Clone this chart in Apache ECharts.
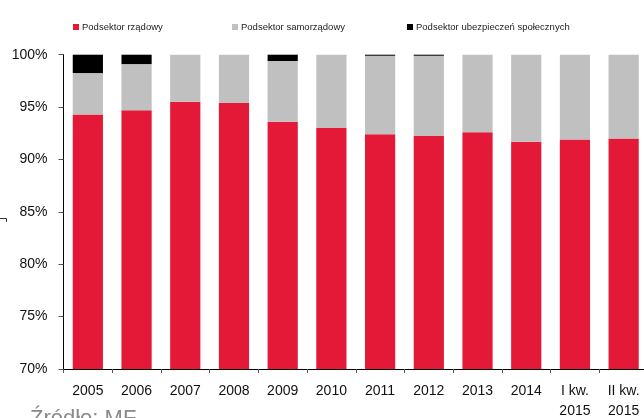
<!DOCTYPE html>
<html>
<head>
<meta charset="utf-8">
<script src="https://cdn.jsdelivr.net/npm/echarts@6/dist/echarts.min.js"></script>
<style>
html,body{margin:0;padding:0;background:#fff;}
#c{width:644px;height:418px;}
</style>
</head>
<body>
<div id="c"></div>
<script>
var categories = ['2005','2006','2007','2008','2009','2010','2011','2012','2013','2014','I kw.\n2015','II kw.\n2015'];
var rzadowy = [94.3, 94.7, 95.5, 95.4, 93.6, 93.0, 92.4, 92.25, 92.6, 91.7, 91.9, 92.0];
var samorzadowy = [3.95, 4.4, 4.5, 4.6, 5.8, 7.0, 7.5, 7.65, 7.4, 8.3, 8.1, 8.0];
var ubezpieczen = [1.75, 0.9, 0, 0, 0.6, 0, 0.1, 0.1, 0, 0, 0, 0];
var seriesNames = ['Podsektor rządowy', 'Podsektor samorządowy', 'Podsektor ubezpieczeń społecznych'];
var yTicks = {min: 70, max: 100, interval: 5};

var chart = echarts.init(document.getElementById('c'), null, {renderer: 'canvas'});
var font = 'Liberation Sans, Arial, sans-serif';
function legendAt(name, left) {
  return {
    data: [name], left: left, top: 22, padding: 0,
    itemWidth: 6, itemHeight: 6, icon: 'rect', selectedMode: false,
    textStyle: {fontSize: 9.5, fontFamily: font, color: '#222', padding: [0, 0, 0, -2]}
  };
}
chart.setOption({
  animation: false,
  backgroundColor: '#fff',
  legend: [legendAt(seriesNames[0], 73), legendAt(seriesNames[1], 232), legendAt(seriesNames[2], 407)],
  grid: {left: 63.5, right: -4, top: 54.7, bottom: 49, containLabel: false, outerBoundsMode: 'none'},
  xAxis: {
    type: 'category', data: categories, boundaryGap: true,
    axisLine: {lineStyle: {color: '#000', width: 1}},
    axisTick: {show: true, length: 4, lineStyle: {color: '#555'}},
    axisLabel: {fontSize: 14, fontFamily: font, color: '#111', margin: 12, lineHeight: 20, interval: 0}
  },
  yAxis: {
    type: 'value', min: yTicks.min, max: yTicks.max, interval: yTicks.interval,
    axisLine: {show: true, lineStyle: {color: '#000', width: 1}},
    axisTick: {show: true, length: 5, lineStyle: {color: '#555'}},
    splitLine: {show: false},
    axisLabel: {formatter: '{value}%', fontSize: 14, fontFamily: font, color: '#111', margin: 16}
  },
  series: [
    {name: seriesNames[0], type: 'bar', stack: 's', data: rzadowy, barWidth: '62%', itemStyle: {color: '#E31937'}},
    {name: seriesNames[1], type: 'bar', stack: 's', data: samorzadowy, barWidth: '62%', itemStyle: {color: '#C0C0C0'}},
    {name: seriesNames[2], type: 'bar', stack: 's', data: ubezpieczen, barWidth: '62%', itemStyle: {color: '#000000'}}
  ],
  graphic: [
    {type: 'text', left: 30, top: 408, style: {text: 'Źródło: MF', fontSize: 22, fontFamily: font, fill: '#8a8a8a'}},
    {type: 'polyline', shape: {points: [[0, 218.5], [6.5, 218.5], [6.5, 222]]}, style: {stroke: '#333', lineWidth: 1, fill: null}}
  ]
});
</script>
</body>
</html>
